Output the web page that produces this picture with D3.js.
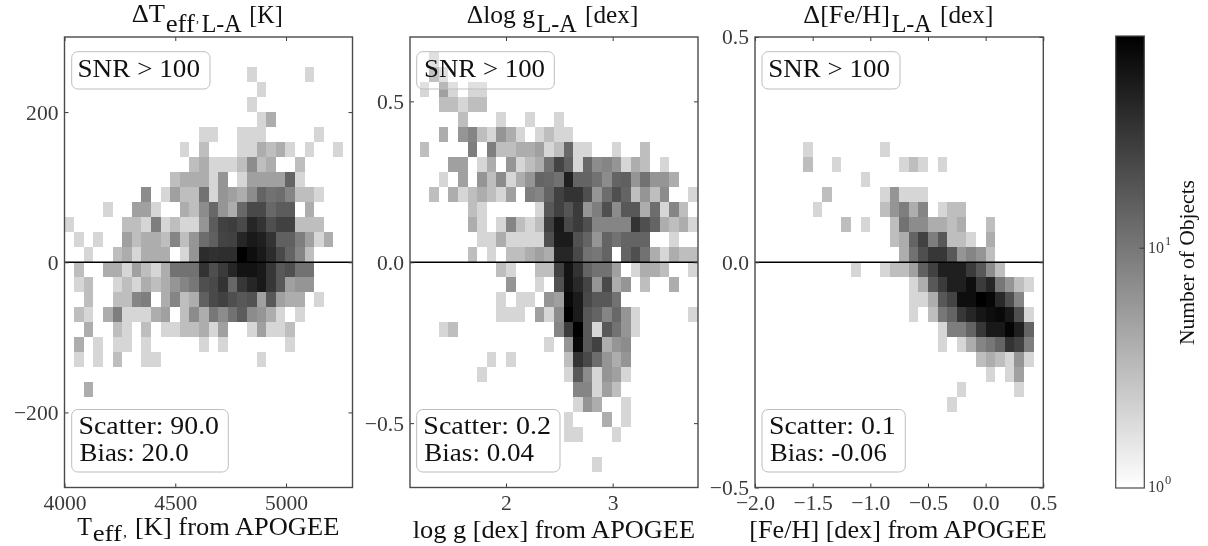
<!DOCTYPE html>
<html><head><meta charset="utf-8">
<script src="https://cdn.jsdelivr.net/npm/d3@7/dist/d3.min.js"></script>
<style>
html,body{margin:0;padding:0;background:#fff}
svg{display:block;filter:blur(0.35px)}
text{font-family:"Liberation Serif",serif}
</style></head><body>
<svg id="c" width="1208" height="546"></svg>
<script>
// Binned counts: array index = row from the top of the panel, key = column from the left, value = objects
const teffCounts = [{},{},
{19:2,25:2},{20:2},{19:2},{20:2,21:4},
{14:2,15:2,18:2,19:2,20:2,26:2},
{12:2,14:3,18:2,19:2,20:4,21:3,22:4,23:2,25:2,28:2},
{13:3,14:4,15:2,16:2,17:2,18:3,19:7,20:3,21:4,24:3},
{11:3,12:4,13:4,14:4,15:2,16:6,18:2,19:5,20:5,21:5,22:5,23:14,24:2},
{8:7,10:2,11:5,12:3,13:3,14:11,15:2,16:6,17:5,18:4,19:7,20:14,21:11,22:12,23:8,24:3,25:3,26:2},
{4:2,7:5,8:5,9:2,12:4,13:3,14:7,15:13,16:6,17:4,18:13,19:22,20:22,21:13,22:16,23:16,25:4},
{0:2,6:3,7:3,8:2,9:9,10:2,11:3,12:2,13:2,14:6,15:16,16:25,17:27,18:22,19:40,20:32,21:20,22:25,23:25,24:3,25:3,26:3},
{1:2,3:2,6:5,7:3,8:4,9:4,10:3,11:8,12:3,13:6,14:12,15:15,16:24,17:25,18:40,19:50,20:45,21:32,22:15,23:15,24:9,25:5,26:2,27:4},
{2:2,5:3,6:4,7:2,8:4,9:4,10:4,12:2,13:6,14:36,15:33,16:35,17:35,18:76,19:60,20:50,21:36,22:22,23:14,24:8,25:3},
{1:3,4:4,5:4,6:2,7:5,8:3,9:2,10:4,11:11,12:11,13:11,14:32,15:20,16:28,17:40,18:55,19:55,20:50,21:30,22:17,23:20,24:11,25:11},
{1:2,2:3,5:2,6:3,7:2,8:4,9:3,10:4,11:6,12:8,13:10,14:20,15:22,16:32,17:13,18:30,19:40,20:50,21:30,22:17,23:5,24:6,25:6},
{2:3,5:3,6:3,7:8,8:9,10:4,11:8,12:3,13:4,14:15,15:22,16:25,17:20,18:17,19:19,20:5,21:17,22:5,23:4,24:4,26:2},
{1:3,2:2,4:4,5:9,6:2,7:2,8:2,9:4,10:5,12:3,13:7,14:4,15:10,16:7,17:11,18:16,19:7,20:6,21:4,22:2,24:2},
{2:4,5:3,6:2,8:3,10:2,11:2,12:3,13:3,14:4,15:2,16:5,19:2,20:5,21:2,22:2,23:3},
{1:4,3:2,5:2,6:2,8:2,14:2,16:2,23:2},
{1:2,3:2,5:3,8:2,9:2,20:2},
{},{2:4},{},{},{},{},{},{}];

const loggCounts = [{},
{2:2},{2:4,3:2},{1:2,3:5,4:2,6:2,7:2},{3:3,4:3,5:2,6:3,7:3},{5:3,9:2,12:2,15:2},
{3:4,5:6,6:8,7:3,8:2,9:6,10:4,11:2,13:2,14:3,15:2,16:2},
{1:3,6:9,8:9,9:3,10:3,11:4,12:4,13:5,14:2,15:3,16:13,17:2,18:2,21:2,24:3},
{4:5,5:5,7:2,8:4,10:6,11:2,12:3,13:4,14:11,15:24,16:15,17:2,18:13,19:7,20:8,21:6,22:2,23:4,24:3,26:2},
{3:2,5:5,7:6,8:3,9:7,10:2,11:4,12:6,13:14,14:13,15:11,16:45,17:14,18:14,19:11,20:7,21:14,22:15,23:6,24:11,25:6,26:6,27:4},
{2:3,4:4,5:2,6:3,7:4,8:3,9:2,10:5,12:9,13:8,14:14,15:25,16:32,17:32,18:20,19:6,20:12,21:20,22:14,23:3,24:6,25:3,26:7,29:2},
{6:3,7:2,13:2,14:17,15:25,16:18,17:28,18:6,19:9,20:20,21:7,22:17,23:17,24:4,25:12,26:2,27:8,28:3},
{6:4,7:2,9:2,10:8,11:3,12:2,13:3,14:25,15:50,16:22,17:28,18:20,19:8,20:8,21:8,22:8,23:32,24:20,25:14,26:4,27:3,28:4,29:2},
{7:2,8:2,9:4,10:2,11:2,12:2,13:2,14:20,15:48,16:48,17:19,18:14,19:6,20:14,21:11,22:14,23:14,24:14,27:2},
{6:3,8:2,10:3,11:3,12:4,13:5,14:4,15:40,16:40,17:22,18:11,19:10,20:14,22:14,23:20,24:11,25:4,26:2,27:4,28:3,29:3},
{9:3,10:2,13:3,14:3,15:25,16:55,17:32,18:14,19:11,20:11,21:5,23:2,24:4,25:4,26:3,29:2},
{10:6,13:2,15:19,16:55,17:38,18:24,19:6,20:22,21:4,22:6,24:3,27:4},
{9:2,11:2,12:2,14:6,15:5,16:65,17:48,18:22,19:17,20:17,21:11},
{9:2,10:2,11:2,13:5,14:2,15:7,16:76,17:48,18:17,19:14,20:8,21:13,22:6,23:2,29:2},
{3:2,4:3,15:8,16:28,17:76,18:17,19:2,20:17,21:11,22:6,23:2},
{14:2,16:6,17:65,18:17,19:25,20:4,21:6,22:7},
{8:2,10:2,16:3,17:32,18:22,19:12,20:6,21:4,22:6},
{7:2,16:2,17:17,18:7,19:2,20:6,21:5,22:2},
{17:8,18:8,19:2,20:5,21:3},
{17:2,18:6,19:4,22:2},
{16:2,20:4,22:2},
{16:2,17:2,21:2},
{},{19:2},{}];

const fehCounts = [{},{},{},{},{},{},{},
{5:2,13:2},
{5:3,8:2,15:2,16:3,17:2,19:2},
{11:2},
{7:3,13:2,14:6,15:2,16:2,17:2},
{6:2,13:3,14:6,15:9,16:4,17:8,19:2,20:3,21:3},
{9:3,11:2,14:3,15:11,16:7,17:7,18:4,19:4,20:3,21:4,24:3},
{14:3,15:4,16:14,17:25,18:9,19:17,20:3,21:3,22:2,24:4},
{15:4,16:11,17:20,18:30,19:30,20:17,21:6,22:8,23:6,24:3},
{10:2,13:2,14:3,15:3,16:5,17:15,18:25,19:45,20:45,21:45,22:28,23:17,24:7,25:3},
{16:2,17:4,18:17,19:28,20:45,21:45,22:60,23:28,24:40,25:10,26:6,27:3,28:2},
{16:2,17:2,18:4,19:17,20:24,21:60,22:60,23:76,24:68,25:38,26:20,27:8},
{16:2,18:3,19:10,20:14,21:30,22:40,23:52,24:60,25:65,26:50,27:20,28:2},
{19:2,20:9,21:9,22:14,23:30,24:50,25:50,26:70,27:45,28:14},
{19:2,21:2,22:4,23:8,24:10,25:14,26:32,27:25,28:9},
{23:3,24:4,25:3,26:2,27:6,28:2},
{24:2,26:2,27:5},
{21:2,27:2},
{20:2},{},{},{},{},{}];

const teffTicksX = [4000,4500,5000];
const teffTicksY = [-200,0,200];
const loggTicksX = [2,3];
const loggTicksY = [-0.5,0,0.5];
const fehTicksX = [-2,-1.5,-1,-0.5,0,0.5];
const fehTicksY = [-0.5,0,0.5];
const colorDomain = [1,76];
const colorTicks = [1,10];

const fmtK = d => String(d).replace("-","\u2212");
const fmt1 = d => d3.format(".1f")(d).replace("-","\u2212");

const panels = [
 {bins:teffCounts, left:64.5, right:352.5, xd:[4000,5300], yd:[-300,300], xt:teffTicksX, yt:teffTicksY, xf:fmtK, yf:fmtK,
  title:[["\u0394T",131.7,165,22,25],["eff",165.7,195,31.7,25],[",",196,199,22,13],["L-A",201.7,241.7,31.7,25],["[K]",249.3,282.7,22.7,25]],
  xlabel:[["T",77.3,92,535,25],["eff",92.7,122,541,23],[",",123,127,537,14],["[K] from APOGEE",135,339.3,535,25]],
  snr:[71.7,210,77.5,200], stat:[71.7,228.3], s1:["Scatter: 90.0",78.5,219], s2:["Bias: 20.0",79.5,188.6]},
 {bins:loggCounts, left:410, right:698, xd:[1.1,3.8], yd:[-0.7,0.7], xt:loggTicksX, yt:loggTicksY, xf:d=>String(d), yf:fmt1,
  title:[["\u0394log g",466.7,535,22.7,25],["L-A",536.7,576.7,31.7,25],["[dex]",585,638.3,22.7,25]],
  xlabel:[["log g [dex] from APOGEE",412.7,695,538,25]],
  snr:[416.7,554.3,424,545], stat:[416.7,560], s1:["Scatter: 0.2",423.3,551], s2:["Bias: 0.04",424.3,534]},
 {bins:fehCounts, left:755, right:1043.3, xd:[-2,0.5], yd:[-0.5,0.5], xt:fehTicksX, yt:fehTicksY, xf:fmt1, yf:fmt1,
  title:[["\u0394[Fe/H]",803.3,890,22.7,25],["L-A",891.7,931.7,31.7,25],["[dex]",940,993.3,22.7,25]],
  xlabel:[["[Fe/H] [dex] from APOGEE",749.3,1046.7,538,25]],
  snr:[762,900,768.3,890], stat:[762,905.3], s1:["Scatter: 0.1",769,895.7], s2:["Bias: -0.06",770,886.7]}
];

const svg = d3.select("#c");
const top_ = 37, bottom = 487.5, nBins = 30;
const ink = "#111", tickInk = "#3a3a3a", frameInk = "#4a4a4a";
const color = d3.scaleLog().domain(colorDomain).range(["#ffffff","#000000"]).clamp(true);

function fitted(g, s, x0, x1, base, size, fill){
  return g.append("text").attr("x",x0).attr("y",base).attr("font-size",size)
    .attr("fill",fill||ink).attr("textLength",x1-x0).attr("lengthAdjust","spacingAndGlyphs").text(s);
}
function box(g, x0, x1, y0, y1){
  g.append("rect").attr("x",x0).attr("y",y0).attr("width",x1-x0).attr("height",y1-y0)
    .attr("rx",6).attr("ry",6).attr("fill","#fff").attr("fill-opacity",0.25)
    .attr("stroke","#bdbdbd").attr("stroke-width",1);
}
function styleAxis(a){
  a.select(".domain").remove();
  a.selectAll(".tick line").attr("stroke",tickInk).attr("stroke-width",1);
  a.selectAll(".tick text").attr("fill",tickInk).attr("font-size",21.6)
    .attr("font-family",'"Liberation Serif",serif');
}

panels.forEach(p=>{
  const g = svg.append("g");
  const x = d3.scaleLinear().domain(p.xd).range([p.left,p.right]);
  const y = d3.scaleLinear().domain(p.yd).range([bottom,top_]);
  const dx = (p.xd[1]-p.xd[0])/nBins, dy = (p.yd[1]-p.yd[0])/nBins;
  const cells = [];
  p.bins.forEach((row,r)=>{
    Object.keys(row).forEach(c=>cells.push({c:+c,r,v:row[c]}));
  });
  g.append("g").attr("shape-rendering","crispEdges").selectAll("rect").data(cells).join("rect")
    .attr("x",d=>x(p.xd[0]+d.c*dx))
    .attr("width",d=>x(p.xd[0]+(d.c+1)*dx)-x(p.xd[0]+d.c*dx))
    .attr("y",d=>y(p.yd[1]-d.r*dy))
    .attr("height",d=>y(p.yd[1]-(d.r+1)*dy)-y(p.yd[1]-d.r*dy))
    .attr("fill",d=>color(d.v));

  g.append("line").attr("x1",p.left).attr("x2",p.right).attr("y1",y(0)).attr("y2",y(0))
    .attr("stroke","#000").attr("stroke-width",1.4);

  g.append("g").attr("transform",`translate(0,${bottom})`)
    .call(d3.axisBottom(x).tickValues(p.xt).tickSizeOuter(0).tickSizeInner(-4).tickPadding(7).tickFormat(p.xf)).call(styleAxis);
  g.append("g").attr("transform",`translate(0,${top_})`)
    .call(d3.axisTop(x).tickValues(p.xt).tickSizeOuter(0).tickSizeInner(-4).tickFormat("")).call(styleAxis);
  g.append("g").attr("transform",`translate(${p.left},0)`)
    .call(d3.axisLeft(y).tickValues(p.yt).tickSizeOuter(0).tickSizeInner(-4).tickPadding(6).tickFormat(p.yf)).call(styleAxis);
  g.append("g").attr("transform",`translate(${p.right},0)`)
    .call(d3.axisRight(y).tickValues(p.yt).tickSizeOuter(0).tickSizeInner(-4).tickFormat("")).call(styleAxis);

  g.append("rect").attr("x",p.left).attr("y",top_).attr("width",p.right-p.left).attr("height",bottom-top_)
    .attr("fill","none").attr("stroke",frameInk).attr("stroke-width",1.4);

  box(g,p.snr[0],p.snr[1],51.7,89);
  fitted(g,"SNR > 100",p.snr[2],p.snr[3],77,25);
  box(g,p.stat[0],p.stat[1],409.5,472);
  fitted(g,p.s1[0],p.s1[1],p.s1[2],434.3,25);
  fitted(g,p.s2[0],p.s2[1],p.s2[2],460.7,25);

  p.title.forEach(t=>fitted(g,t[0],t[1],t[2],t[3],t[4]));
  p.xlabel.forEach(t=>fitted(g,t[0],t[1],t[2],t[3],t[4]));
});

// colour bar
const cbL = 1115.7, cbR = 1144.3, cbT = 36, cbB = 488;
const cy = d3.scaleLog().domain(colorDomain).range([cbB,cbT]);
const cg = svg.append("g");
const nSteps = 226;
const stepVals = d3.range(nSteps+1).map(i=>cy.invert(cbB-(cbB-cbT)*i/nSteps));
cg.append("g").selectAll("rect").data(stepVals.slice(0,-1)).join("rect")
  .attr("x",cbL).attr("width",cbR-cbL)
  .attr("y",(d,i)=>cy(stepVals[i+1])).attr("height",(d,i)=>cy(d)-cy(stepVals[i+1])+0.5)
  .attr("fill",d=>color(d));
cg.append("rect").attr("x",cbL).attr("y",cbT).attr("width",cbR-cbL).attr("height",cbB-cbT)
  .attr("fill","none").attr("stroke",frameInk).attr("stroke-width",1.2);
cg.append("g").attr("transform",`translate(${cbR},0)`)
  .call(d3.axisRight(cy).tickValues([10]).tickSizeOuter(0).tickSizeInner(-5).tickFormat("")).call(styleAxis);
colorTicks.forEach(v=>{
  const yy = cy(v)+ (v===1?3.7:5);
  cg.append("text").attr("x",1148).attr("y",yy).attr("font-size",17.5).attr("fill",tickInk)
    .attr("textLength",16).attr("lengthAdjust","spacingAndGlyphs").text("10");
  cg.append("text").attr("x",1165).attr("y",yy-8).attr("font-size",12.5).attr("fill",tickInk).text(String(Math.log10(v)));
});
cg.append("text").attr("transform","translate(1194,345) rotate(-90)").attr("font-size",20).attr("fill",ink)
  .attr("textLength",165).attr("lengthAdjust","spacingAndGlyphs").text("Number of Objects");
</script></body></html>
